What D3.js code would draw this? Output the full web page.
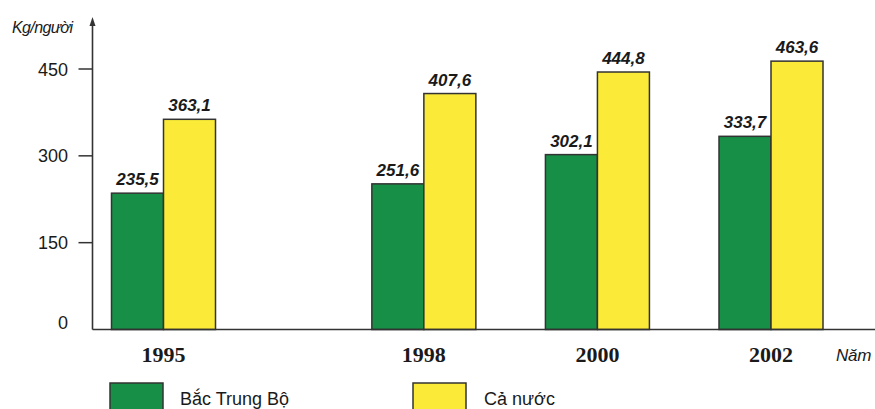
<!DOCTYPE html>
<html><head><meta charset="utf-8">
<script src="https://cdn.jsdelivr.net/npm/d3@7"></script>
<style>
body{margin:0;background:#fff;}
svg{display:block;}
text{font-family:"Liberation Sans",Arial,sans-serif;}
</style></head>
<body>
<svg id="c" width="875" height="409"></svg>
<script>
const years = [1995, 1998, 2000, 2002];
const bacTrungBo = [235.5, 251.6, 302.1, 333.7];
const caNuoc = [363.1, 407.6, 444.8, 463.6];
const seriesNames = ["Bắc Trung Bộ", "Cả nước"];
const yTicks = [0, 150, 300, 450];
const colors = ["#178f47", "#fbeb38"];

const svg = d3.select("#c");
const x = d3.scaleLinear().domain([1995, 2002]).range([163.5, 771]);
const y = d3.scaleLinear().domain([0, 450]).range([329.5, 69]);
const barW = 52;
const axisX = 92.5;
const stroke = "#333";

const fmt = v => d3.format(".1f")(v).replace(".", ",");

// bars
const series = [bacTrungBo, caNuoc];
series.forEach((vals, si) => {
  const g = svg.append("g");
  g.selectAll("rect").data(years).join("rect")
    .attr("x", (d, i) => x(d) + (si === 0 ? -barW : 0))
    .attr("y", (d, i) => y(vals[i]))
    .attr("width", barW)
    .attr("height", (d, i) => y(0) - y(vals[i]))
    .attr("fill", colors[si])
    .attr("stroke", stroke)
    .attr("stroke-width", 1.5);
  g.selectAll("text").data(years).join("text")
    .attr("x", (d, i) => x(d) + (si === 0 ? -barW / 2 : barW / 2))
    .attr("y", (d, i) => y(vals[i]) - 8)
    .attr("text-anchor", "middle")
    .attr("font-weight", "bold")
    .attr("font-style", "italic")
    .attr("font-size", 17)
    .attr("fill", "#1a1a1a")
    .text((d, i) => fmt(vals[i]));
});

// y axis line with arrow
svg.append("line").attr("x1", axisX).attr("x2", axisX)
  .attr("y1", y(0)).attr("y2", 22).attr("stroke", stroke).attr("stroke-width", 1.6);
svg.append("path").attr("d", `M${axisX - 3},26 L${axisX},17 L${axisX + 3},26 Z`).attr("fill", stroke);

// x axis line
svg.append("line").attr("x1", axisX).attr("x2", 875)
  .attr("y1", y(0)).attr("y2", y(0)).attr("stroke", stroke).attr("stroke-width", 1.6);

// y ticks
const yt = svg.append("g");
yTicks.forEach(t => {
  if (t > 0) {
    yt.append("line").attr("x1", axisX - 14).attr("x2", axisX)
      .attr("y1", y(t)).attr("y2", y(t)).attr("stroke", stroke).attr("stroke-width", 1.5);
  }
  yt.append("text").attr("x", 68).attr("y", t > 0 ? y(t) + 6.5 : y(t) - 1)
    .attr("text-anchor", "end").attr("font-size", 18).attr("fill", "#1a1a1a").text(t);
});

svg.append("text").attr("x", 12).attr("y", 33).attr("font-style", "italic")
  .attr("font-size", 16).attr("letter-spacing", -0.6).attr("fill", "#1a1a1a").text("Kg/người");

// x labels
svg.append("g").selectAll("text").data(years).join("text")
  .attr("x", d => x(d)).attr("y", 362)
  .attr("text-anchor", "middle")
  .style("font-family", "'Liberation Serif','Times New Roman',serif")
  .attr("font-weight", "bold").attr("font-size", 22).attr("fill", "#1a1a1a")
  .text(d => d);

svg.append("text").attr("x", 836).attr("y", 361).attr("font-style", "italic")
  .attr("font-size", 17).attr("letter-spacing", -0.2).attr("fill", "#1a1a1a").text("Năm");

// legend
const legX = [110, 413];
const legTX = [180, 484];
seriesNames.forEach((n, i) => {
  svg.append("rect").attr("x", legX[i]).attr("y", 383).attr("width", 53).attr("height", 32)
    .attr("fill", colors[i]).attr("stroke", stroke).attr("stroke-width", 1.5);
  svg.append("text").attr("x", legTX[i]).attr("y", 405).attr("font-size", 18)
    .attr("fill", "#1a1a1a").text(n);
});
</script>
</body></html>
